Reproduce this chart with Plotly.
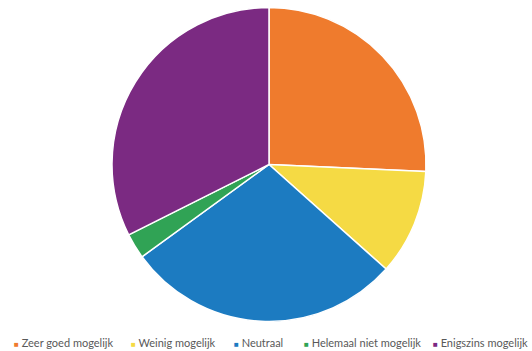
import plotly.graph_objects as go

# Answer categories and their share of responses (%)
categories = ["Zeer goed mogelijk", "Weinig mogelijk", "Neutraal",
              "Helemaal niet mogelijk", "Enigszins mogelijk"]
shares = [25.7, 10.9, 28.4, 2.6, 32.4]
colors = ["#EF7B2D", "#F5DA44", "#1C7BC1", "#30A355", "#7B2A82"]

W, H = 532, 351
cx, cy, r = 269, 164.5, 157  # pie centre / radius in pixels

fig = go.Figure(go.Pie(
    labels=categories,
    values=shares,
    sort=False,
    direction="clockwise",
    rotation=0,
    marker=dict(colors=colors, line=dict(color="white", width=1.5)),
    textinfo="none",
    hoverinfo="label+percent",
    showlegend=False,
    domain=dict(x=[(cx - r) / W, (cx + r) / W],
                y=[(H - cy - r) / H, (H - cy + r) / H]),
))

# Compact legend row along the bottom
legend_x = [12, 129, 232, 302, 432]
for i, (x, label, col) in enumerate(zip(legend_x, categories, colors)):
    last = i == len(categories) - 1
    fig.add_annotation(
        x=(530 if last else x) / W, y=(H - 342) / H,
        xref="paper", yref="paper",
        xanchor="right" if last else "left", yanchor="middle",
        showarrow=False,
        text=f"<span style='color:{col};font-size:8px'>■</span> {label}",
        font=dict(family="Lato, sans-serif", size=11, color="#595959"),
    )

fig.update_layout(
    width=W, height=H,
    margin=dict(l=0, r=0, t=0, b=0),
    paper_bgcolor="white", plot_bgcolor="white",
)

fig.write_html("out.html")
